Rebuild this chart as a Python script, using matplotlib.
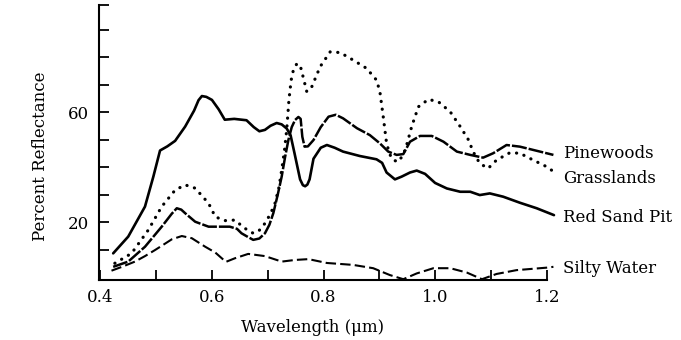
import numpy as np
import matplotlib
matplotlib.use('Agg')
import matplotlib.pyplot as plt

# wavelength (um) and percent reflectance
red_sand_x = [0.423, 0.450, 0.480, 0.495, 0.507, 0.520, 0.534, 0.552, 0.568, 0.576, 0.582, 0.590,
              0.600, 0.612, 0.623, 0.640, 0.662, 0.675, 0.685, 0.695, 0.705, 0.716, 0.725, 0.734,
              0.741, 0.748, 0.758, 0.763, 0.767, 0.771, 0.775, 0.782, 0.795, 0.806, 0.820, 0.835,
              0.865, 0.895, 0.905, 0.913, 0.928, 0.940, 0.955, 0.967, 0.982, 1.000, 1.021, 1.045,
              1.063, 1.080, 1.098, 1.122, 1.152, 1.182, 1.213]
red_sand_y = [8.6, 14.7, 25.6, 36.5, 46.0, 47.5, 49.5, 54.7, 60.5, 64.3, 65.8, 65.5,
              64.4, 61.0, 57.2, 57.5, 57.0, 54.5, 53.0, 53.5, 55.0, 56.0, 55.5, 54.0,
              51.5, 45.0, 35.5, 33.4, 33.0, 33.6, 35.5, 43.0, 47.0, 48.0, 47.0, 45.6,
              44.0, 42.8, 41.5, 38.0, 35.5, 36.5, 38.0, 38.7, 37.5, 34.2, 32.2, 31.0,
              31.0, 29.8, 30.4, 29.2, 27.0, 25.0, 22.5]

pine_x = [0.423, 0.450, 0.480, 0.510, 0.528, 0.537, 0.545, 0.552, 0.570, 0.594, 0.620, 0.632,
          0.645, 0.653, 0.665, 0.674, 0.685, 0.695, 0.703, 0.710, 0.718, 0.725, 0.731, 0.737,
          0.743, 0.749, 0.755, 0.759, 0.762, 0.766, 0.772, 0.782, 0.795, 0.809, 0.822, 0.835,
          0.860, 0.883, 0.901, 0.916, 0.931, 0.943, 0.955, 0.973, 0.994, 1.015, 1.039, 1.063,
          1.086, 1.104, 1.128, 1.152, 1.182, 1.212]
pine_y = [3.7, 5.6, 11.0, 18.3, 23.0, 25.0, 24.5, 23.2, 20.1, 18.3, 18.3, 18.3,
          17.5, 15.9, 14.5, 13.5, 14.0, 15.9, 19.0, 23.2, 30.0, 36.5, 43.5, 49.8,
          54.5, 57.1, 58.2, 57.5, 51.0, 47.4, 47.5, 49.8, 54.5, 58.3, 59.0, 57.7,
          54.1, 51.6, 48.6, 45.6, 44.4, 44.7, 49.2, 51.3, 51.3, 49.2, 45.6, 44.4,
          43.4, 45.0, 48.0, 47.4, 45.9, 44.4]

grass_x = [0.426, 0.456, 0.486, 0.510, 0.534, 0.552, 0.570, 0.594, 0.606, 0.623, 0.641, 0.659,
           0.674, 0.685, 0.695, 0.705, 0.713, 0.720, 0.725, 0.730, 0.734, 0.738, 0.742, 0.746,
           0.752, 0.758, 0.764, 0.770, 0.779, 0.794, 0.812, 0.830, 0.853, 0.877, 0.895, 0.901,
           0.907, 0.913, 0.919, 0.925, 0.934, 0.943, 0.949, 0.958, 0.970, 0.988, 1.006, 1.027,
           1.045, 1.060, 1.068, 1.080, 1.095, 1.110, 1.134, 1.152, 1.176, 1.200, 1.218]
grass_y = [5.0, 8.6, 17.1, 25.6, 31.6, 33.5, 32.3, 26.8, 21.9, 20.5, 20.7, 17.7,
           15.9, 17.0, 19.5, 23.0, 26.8, 32.5, 38.9, 46.0, 53.5, 64.4, 71.6, 75.3,
           77.5, 77.1, 72.3, 67.4, 69.2, 76.5, 81.9, 81.6, 78.9, 75.9, 71.6, 67.4,
           58.3, 48.6, 44.5, 42.5, 41.9, 44.5, 48.0, 54.7, 61.9, 64.6, 63.7, 60.1,
           54.7, 49.8, 45.6, 41.3, 39.5, 42.5, 45.2, 45.0, 42.5, 40.1, 37.5]

water_x = [0.420, 0.440, 0.462, 0.480, 0.498, 0.515, 0.528, 0.546, 0.564, 0.588, 0.606, 0.625,
           0.641, 0.665, 0.695, 0.725, 0.749, 0.773, 0.806, 0.853, 0.889, 0.919, 0.943, 0.967,
           0.997, 1.027, 1.057, 1.084, 1.110, 1.146, 1.200, 1.212]
water_y = [2.3, 3.8, 5.6, 7.6, 9.8, 12.0, 13.7, 14.9, 14.1, 11.0, 8.9, 5.5,
           6.8, 8.4, 7.6, 5.6, 6.2, 6.5, 5.1, 4.4, 3.2, 0.7, -0.8, 1.3,
           3.2, 3.2, 1.6, -0.8, 1.1, 2.5, 3.4, 3.7]

labels = ['Pinewoods', 'Grasslands', 'Red Sand Pit', 'Silty Water']
label_y = [43.2, 34.3, 20.1, 1.3]

x_ticks = [0.4, 0.5, 0.6, 0.7, 0.8, 0.9, 1.0, 1.1, 1.2]
x_ticklabels = ['0.4', '', '0.6', '', '0.8', '', '1.0', '', '1.2']
y_ticks = [10, 20, 30, 40, 50, 60, 70, 80, 90, 99]
y_ticklabels = ['', '20', '', '', '', '60', '', '', '', '']

plt.rcParams['font.family'] = ['DejaVu Serif']

fig = plt.figure(figsize=(6.81, 3.4), dpi=100)
ax = fig.add_axes([0.1457, 0.1772, 0.6776, 0.8088])

ax.plot(red_sand_x, red_sand_y, c='k', lw=1.9, solid_joinstyle='round', solid_capstyle='round')
ax.plot(pine_x, pine_y, c='k', lw=1.8, linestyle=(0, (6, 0.8)), dash_joinstyle='round')
ax.plot(grass_x, grass_y, c='k', lw=2.3, linestyle=(0, (0.05, 2.4)), dash_capstyle='round')
ax.plot(water_x, water_y, c='k', lw=1.5, linestyle=(0, (5, 2)))

for lab, yy in zip(labels, label_y):
    ax.text(1.229, yy, lab, fontsize=12, va='baseline', ha='left', clip_on=False)

ax.set_xlim(0.398, 1.225)
ax.set_ylim(-1, 99)
ax.spines['top'].set_visible(False)
ax.spines['right'].set_visible(False)
ax.spines['bottom'].set_bounds(0.398, 1.2)
for s in ['left', 'bottom']:
    ax.spines[s].set_linewidth(1.5)

ax.set_xticks(x_ticks)
ax.set_xticklabels(x_ticklabels)
ax.set_yticks(y_ticks)
ax.set_yticklabels(y_ticklabels)
ax.tick_params(direction='in', length=7.5, width=1.3, labelsize=12, pad=7)

ax.set_xlabel('Wavelength (\u03bcm)', fontsize=12)
ax.xaxis.set_label_coords(0.463, -0.142)
ax.set_ylabel('Percent Reflectance', fontsize=12)
ax.yaxis.set_label_coords(-0.108, 0.45)

plt.savefig('out.png', dpi=100)
